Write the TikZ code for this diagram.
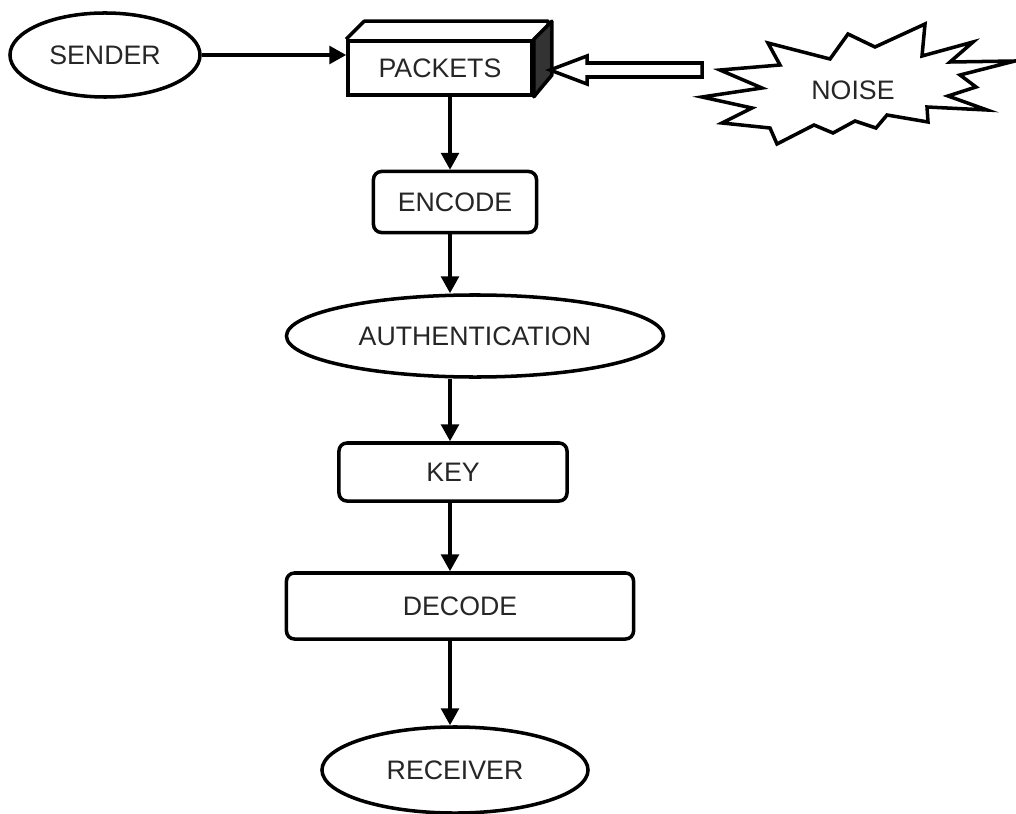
\documentclass[tikz,border=0pt]{standalone}
\usepackage{fontspec}
\setmainfont{Liberation Sans}
\usetikzlibrary{arrows.meta,shapes.geometric,calc}

\begin{document}
\begin{tikzpicture}[x=0.025cm,y=-0.025cm,line width=2.5pt,
  every node/.style={font=\fontsize{19}{22}\selectfont,text=black!85,inner sep=0pt},
  blk/.style={draw,rounded corners=0.2cm,fill=white},
  oval/.style={draw,ellipse,fill=white},
  flow/.style={-{Triangle[length=0.42cm,width=0.44cm]}}]
\useasboundingbox (0,0) rectangle (1016,813);
%
% nodes (pixel coordinates, y going down)
\node[oval,minimum width=4.75cm,minimum height=2.1cm] (sender) at (105,55) {SENDER};
\node[draw,fill=white,minimum width=4.6cm,minimum height=1.35cm] (packets) at (440,68) {PACKETS};
\node[blk,minimum width=4.075cm,minimum height=1.525cm] (encode) at (455,202) {ENCODE};
\node[oval,minimum width=9.425cm,minimum height=2.05cm] (auth) at (475,336) {AUTHENTICATION};
\node[blk,minimum width=5.7cm,minimum height=1.45cm] (key) at (453,472) {KEY};
\node[blk,minimum width=8.675cm,minimum height=1.65cm] (decode) at (460,606) {DECODE};
\node[oval,minimum width=6.65cm,minimum height=2.15cm] (receiver) at (455,770) {RECEIVER};
%
% top and side of the packet box
\draw[line join=round] (packets.north west) -- ++(18,-18) -- ++(184,0) -- ++(0,54) -- (packets.south east);
\draw[fill=black!80,line join=round] (packets.north east) -- ++(18,-18) -- ++(0,54) -- (packets.south east) -- cycle;
%
% noise burst
\draw[line join=miter] (768,43) -- (780,65) -- (720,70) -- (762,88) -- (702,97) -- (752,108)
  -- (722,123) -- (770,128) -- (777,144) -- (814,125) -- (833,133) -- (855,121) -- (876,128)
  -- (887,115) -- (928,122) -- (927,107) -- (987,110) -- (948,96) -- (976,87) -- (960,75)
  -- (1015,61) -- (950,62) -- (973,42) -- (922,56) -- (925,24) -- (875,47) -- (848,34)
  -- (830,59) -- cycle;
\node (noise) at (853,90) {NOISE};
%
% hollow arrow from the noise into the packets
\coordinate (tip) at (550,70);
\draw[line join=miter] (tip) -- ++(37,-14) -- ++(0,7) -- ++(115,0) -- ++(0,14) -- ++(-115,0) -- ++(0,7) -- cycle;
%
% main flow
\coordinate (spine) at (450,0);
\draw[flow] (sender.east) -- (sender.east -| packets.west);
\draw[flow] (packets.south -| spine) -- (encode.north -| spine);
\draw[flow] (encode.south -| spine) -- (auth.north -| spine);
\draw[flow] (auth.south -| spine) -- (key.north -| spine);
\draw[flow] (key.south -| spine) -- (decode.north -| spine);
\draw[flow] (decode.south -| spine) -- (receiver.north -| spine);
\end{tikzpicture}
\end{document}
